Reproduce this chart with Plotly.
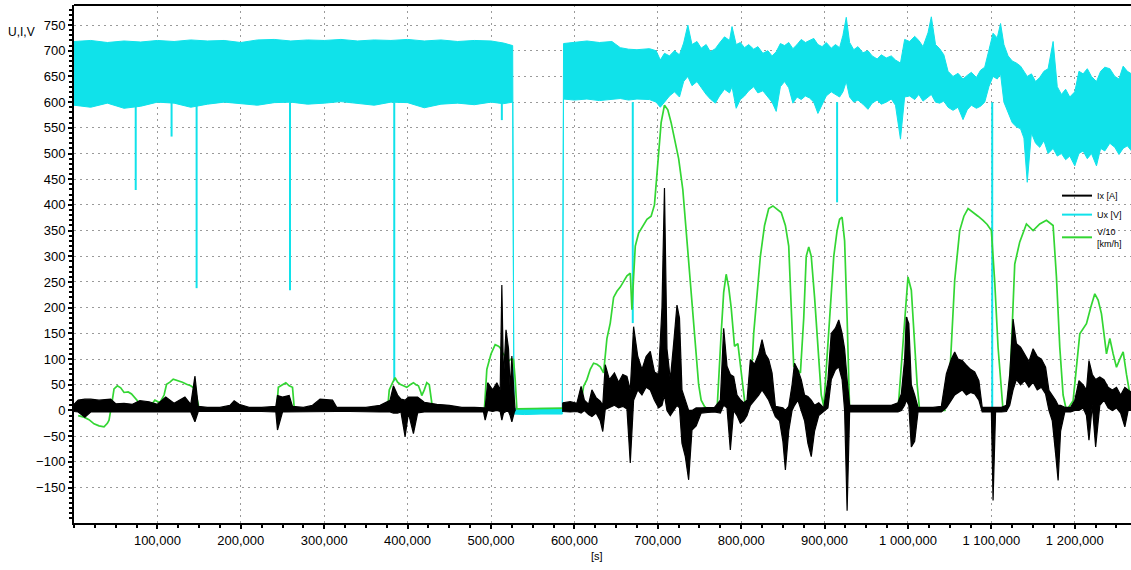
import plotly.graph_objects as go

# ---------------- data (time in thousands of seconds) ----------------
# Ux [V] : envelope of the dense voltage trace (upper / lower edge)
ux_t = [0, 20, 40, 60, 80, 100, 120, 140, 160, 180, 200, 220, 240, 260, 280, 300, 320, 340,
        360, 380, 400, 420, 440, 460, 480, 500, 515, 526,
        527.5, 540, 560, 585.5,
        587, 600, 615, 630, 645, 655, 665, 675, 690, 698, 703, 708, 714, 720, 726, 731, 736,
        741, 747, 752, 758, 763, 769, 774, 780, 786, 789, 794, 799, 804, 809, 815, 820, 826,
        832, 837, 842, 847, 852, 857, 862, 867, 872, 877, 882, 887, 892, 897, 902, 908, 913,
        918, 922, 926, 930, 935, 940, 946, 952, 957, 963, 968, 974, 980, 985, 991, 996, 1002,
        1008, 1013, 1018, 1024, 1028, 1033, 1038, 1043, 1048, 1054, 1060, 1066, 1071, 1076,
        1082, 1087, 1092, 1097, 1102, 1107, 1111, 1115, 1120, 1125, 1130, 1135, 1139, 1143,
        1148, 1153, 1158, 1163, 1168, 1174, 1179, 1184, 1189, 1194, 1200, 1205, 1210, 1215,
        1220, 1226, 1231, 1236, 1242, 1248, 1253, 1258, 1263, 1268]
ux_hi = [718, 720, 716, 719, 717, 720, 718, 721, 719, 720, 716, 721, 722, 719, 721, 720, 722, 719,
         721, 720, 722, 719, 721, 718, 720, 719, 715, 710,
         4, 3, 4, 4,
         714, 717, 719, 716, 718, 706, 703, 702, 704, 700, 682, 695, 690, 700, 692, 715, 750,
         712, 718, 705, 712, 698, 704, 715, 727, 720, 747, 712, 716, 706, 712, 703, 708, 695,
         700, 690, 698, 714, 710, 716, 704, 712, 722, 716, 720, 724, 712, 708, 716, 705, 712,
         706, 730, 765, 716, 702, 708, 696, 700, 690, 684, 692, 686, 690, 682, 676, 722, 718,
         728, 720, 708, 735, 766, 712, 704, 692, 660, 650, 656, 645, 652, 658,
         648, 662, 668, 700, 734, 725, 753, 712, 690, 680, 676, 670, 660, 650,
         655, 640, 648, 660, 665, 718, 630, 615, 625, 610, 620, 660, 655, 665,
         650, 640, 660, 668, 665, 650, 645, 670, 660, 655]
ux_lo = [594, 590, 598, 588, 592, 600, 598, 590, 596, 600, 597, 594, 599, 600, 596, 598, 601, 597,
         594, 600, 599, 589, 596, 598, 595, 600, 597, 600,
         -7, -8, -7, -7,
         606, 604, 606, 603, 605, 607, 604, 606, 605, 600, 590, 600, 612, 620, 610, 640, 650,
         632, 640, 628, 615, 606, 598, 612, 625, 618, 630, 588, 605, 612, 622, 630, 618, 622,
         610, 600, 582, 630, 640, 628, 598, 610, 605, 612, 608, 600, 578, 596, 612, 620, 615,
         610, 620, 640, 610, 600, 604, 596, 586, 598, 604, 596, 600, 606, 594, 528, 610, 612,
         605, 615, 602, 610, 615, 600, 598, 602, 590, 584, 590, 566, 585, 594,
         588, 592, 600, 630, 650, 645, 655, 600, 580, 560, 552, 548, 530, 444,
         540, 520, 512, 525, 500, 510, 495, 500, 488, 495, 476, 500, 505, 490,
         500, 476, 510, 505, 520, 512, 498, 510, 515, 505]
# Ux short drops (time, lowest value)
ux_drop_t = [74, 117, 147, 259, 384, 513, 670, 915, 1101]
ux_drop_v = [429, 533, 238, 234, 57, 565, 170, 405, 0]
ux_drop_from = 600

# Ix [A] : envelope of the current trace, two recorded segments
ix_t1 = [0, 5, 13, 20, 30, 44, 50, 60, 70, 79, 90, 100, 110, 120, 133, 140, 145, 149, 160, 175,
         187, 192, 198, 210, 225, 242, 244, 250, 258, 262, 275, 286, 295, 310, 315, 330, 350,
         367, 379, 383, 388, 392, 397, 401, 407, 412, 420, 435, 450, 465, 480, 491, 493, 496,
         502, 507, 511, 513, 515, 518, 521, 523, 525, 528, 529]
ix_hi1 = [12, 20, 22, 22, 20, 22, 13, 14, 12, 19, 17, 12, 26, 14, 26, 12, 67, 8, 6, 6,
          10, 19, 12, 6, 6, 8, 29, 26, 29, 8, 6, 10, 22, 20, 6, 6, 6,
          10, 20, 48, 30, 22, 20, 26, 26, 26, 16, 12, 10, 6, 6, 6, 5, 54,
          40, 54, 40, 244, 60, 157, 120, 40, 106, 20, 5]
ix_lo1 = [-2, -3, -13, -3, -3, -3, -3, -2, -3, -2, -3, -3, -2, -3, -3, -3, -22, -2, -2, -2,
          -2, -3, -2, -2, -2, -3, -38, -3, -2, -2, -2, -2, -3, -2, -2, -2, -2,
          -3, -3, -5, -5, -3, -51, -5, -45, -5, -3, -3, -2, -3, -3, -3, -19, 0,
          -2, 0, -2, -19, -5, -2, -2, -10, -22, -3, 0]
ix_t2 = [586, 595, 603, 608, 612, 617, 621, 626, 631, 634, 637, 642, 648, 653, 658, 663, 667,
         671, 676, 681, 686, 691, 696, 701, 705, 708, 711, 715, 719, 723, 726, 729, 733, 737,
         741, 746, 752, 760, 768, 775, 779, 783, 787, 791, 795, 799, 803, 807, 811, 816, 821,
         825, 829, 833, 837, 841, 846, 850, 853, 857, 861, 864, 868, 872, 876, 880, 884, 888,
         893, 899, 904, 908, 913, 917, 921, 924, 927, 930, 940, 950, 960, 970, 980, 988, 992,
         996, 998, 1001, 1004, 1008, 1012, 1020, 1030, 1040, 1046, 1052, 1056, 1060, 1065,
         1070, 1075, 1080, 1085, 1089, 1095, 1100, 1102, 1105, 1112, 1118, 1122, 1126, 1130,
         1135, 1140, 1145, 1150, 1155, 1160, 1165, 1169, 1173, 1177, 1180, 1183, 1188, 1195,
         1200, 1205, 1210, 1214, 1217, 1221, 1225, 1230, 1235, 1240, 1245, 1250, 1255, 1260,
         1264, 1268]
ix_hi2 = [15, 17, 14, 47, 20, 12, 40, 25, 18, 10, 89, 60, 73, 55, 70, 66, 40,
          163, 105, 80, 105, 115, 75, 70, 200, 433, 120, 60, 130, 205, 180, 40, 20, 0,
          0, 5, 5, 6, 6, 20, 160, 86, 70, 66, 30, 21, 15, 20, 99, 90, 110,
          138, 110, 99, 73, 8, 6, 5, 0, 8, 50, 92, 79, 60, 30, 27, 20, 10,
          15, 5, 60, 150, 160, 176, 150, 120, 60, 10, 10, 10, 9, 10, 10, 15, 32,
          100, 182, 169, 50, 30, 6, 6, 6, 8, 71, 100, 114, 100, 97,
          88, 80, 75, 58, 6, 6, 6, 6, 6, 6, 10, 71, 178, 130,
          123, 110, 95, 120, 105, 100, 84, 39, 30, 20, 10, 10, 6, 6,
          20, 58, 50, 40, 97, 70, 60, 65, 60, 45, 40, 45, 30, 45,
          40, 35]
ix_lo2 = [-2, -3, -2, -5, 0, -8, -12, -5, -20, -41, 2, 5, 10, 5, 8, 3, -102,
          20, 40, 30, 45, 40, 20, 5, 10, 30, 0, -10, 0, 10, 5, -64, -90, -135,
          -38, -30, -5, -4, -3, -5, 10, 5, -77, 0, -10, -25, -20, -10, 10, 20, 30,
          40, 30, 20, 5, -12, -20, -60, -116, -40, 0, 10, 20, 0, -20, -64, -90, -40,
          -10, -2, 5, 60, 79, 85, 60, 0, -195, -3, -3, -3, -3, -3, -3, -3, 0,
          10, 20, 10, -71, -60, -3, -3, -3, -3, 5, 20, 30, 35, 40,
          30, 35, 32, 20, -3, -3, -3, -175, -3, -3, -2, 10, 40, 60,
          50, 58, 45, 55, 40, 45, 32, 0, -20, -84, -136, -40, -3, -3,
          0, 0, 5, -10, -58, 10, -71, 10, 20, 5, 0, 5, -5, -32,
          0, 0]

# V/10 [km/h]
v_t = [5, 12, 18, 24, 30, 36, 40, 42, 45, 48, 52, 56, 60, 65, 69, 73, 76, 79, 84, 90, 97, 103,
       108, 111, 115, 119, 125, 130, 135, 140, 145, 148, 150, 243, 245, 250, 254, 258, 262,
       264, 266, 376, 378, 382, 385, 388, 391, 395, 399, 403, 407, 410, 413, 416, 417, 420,
       423, 426, 428, 430, 492, 495, 500, 505, 509, 511, 514, 517, 521, 524, 527, 529, 531,
       607, 611, 615, 619, 623, 627, 631, 635, 639, 643, 647, 651, 655, 659, 663, 667, 669,
       671, 673, 677, 682, 687, 692, 696, 700, 704, 708, 712, 716, 720, 725, 730, 735, 740,
       745, 749, 752, 756, 760, 771, 776, 779, 782, 785, 788, 792, 796, 800, 804, 807, 812,
       815, 819, 823, 828, 833, 838, 843, 848, 853, 857, 860, 863, 867, 871, 875, 878, 881,
       884, 888, 892, 896, 899, 903, 907, 911, 915, 918, 921, 924, 927, 930, 988, 992, 996,
       1000, 1004, 1008, 1011, 1014, 1044, 1050, 1056, 1062, 1067, 1072, 1078, 1084, 1090,
       1095, 1100, 1104, 1108, 1114, 1118, 1122, 1128, 1134, 1142, 1150, 1158, 1166, 1174,
       1178, 1182, 1186, 1190, 1198, 1206, 1214, 1219, 1224, 1228, 1232, 1238, 1242, 1246,
       1250, 1254, 1258, 1262, 1266]
v_val = [-10, -13, -18, -26, -30, -32, -25, -19, 10, 42, 48, 44, 35, 36, 32, 25, 19, 6, 0, 5, 20, 15,
         30, 51, 55, 61, 58, 55, 51, 48, 42, 20, 4, 2, 45, 50, 54, 48, 45,
         6, 0, 2, 40, 54, 64, 55, 51, 48, 45, 50, 54, 50, 48, 35, 29, 40,
         54, 50, 25, 3, 0, 80, 110, 128, 125, 122, 112, 106, 96, 100, 99, 60, 3,
         5, 47, 60, 80, 92, 90, 85, 73, 140, 170, 220, 232, 240, 250, 262, 267, 196,
         260, 320, 345, 360, 372, 378, 400, 480, 560, 594, 585, 560, 530, 490, 430, 330, 230,
         130, 50, 20, 8, 2, 0, 150, 230, 265, 240, 200, 125, 130, 80, 20, 2, 60,
         150, 230, 300, 360, 393, 398, 392, 385, 360, 320, 200, 86, 80, 73, 180, 300, 318,
         300, 220, 120, 30, 8, 100, 200, 300, 350, 372, 376, 330, 180, 0, 0, 84, 180,
         260, 234, 130, 50, 0, 0, 65, 253, 350, 378, 393, 386, 378, 370,
         362, 350, 250, 123, 0, 5, 45, 285, 328, 363, 350, 363, 370, 360,
         260, 123, 30, 0, 19, 149, 169, 200, 227, 215, 188, 110, 140, 110,
         84, 100, 114, 70, 32]

x_tick_vals = [100000, 200000, 300000, 400000, 500000, 600000, 700000, 800000, 900000,
               1000000, 1100000, 1200000]
x_tick_text = ["100,000", "200,000", "300,000", "400,000", "500,000", "600,000", "700,000",
               "800,000", "900,000", "1 000,000", "1 100,000", "1 200,000"]
y_tick_vals = [-150, -100, -50, 0, 50, 100, 150, 200, 250, 300, 350, 400, 450, 500, 550,
               600, 650, 700, 750]

# ---------------- styling ----------------
CYAN = "#10e2ea"
GREEN = "#33d633"
BLACK = "#000000"
FONT = "Liberation Sans, Arial, sans-serif"


def sec(ts):
    return [t * 1000 for t in ts]


def band(ts, hi, lo):
    xs = sec(ts)
    return xs + xs[::-1] + [xs[0]], hi + lo[::-1] + [hi[0]]


fig = go.Figure()

# Ux band
bx, by = band(ux_t, ux_hi, ux_lo)
fig.add_trace(go.Scatter(x=bx, y=by, mode="lines", fill="toself", fillcolor=CYAN,
                         line=dict(color=CYAN, width=1), showlegend=False, hoverinfo="skip"))
# Ux drops
dx, dy = [], []
for t, v in zip(ux_drop_t, ux_drop_v):
    dx += [t * 1000, t * 1000, None]
    dy += [ux_drop_from, v, None]
fig.add_trace(go.Scatter(x=dx, y=dy, mode="lines", line=dict(color=CYAN, width=2),
                         showlegend=False, hoverinfo="skip"))

# V/10
fig.add_trace(go.Scatter(x=sec(v_t), y=v_val, mode="lines", line=dict(color=GREEN, width=1.7),
                         showlegend=False))

# Ix band (two segments)
ax1, ay1 = band(ix_t1, ix_hi1, ix_lo1)
ax2, ay2 = band(ix_t2, ix_hi2, ix_lo2)
fig.add_trace(go.Scatter(x=ax1 + [None] + ax2, y=ay1 + [None] + ay2, mode="lines",
                         fill="toself", fillcolor=BLACK, line=dict(color=BLACK, width=1.2),
                         showlegend=False, hoverinfo="skip"))

# legend entries
for name, col in [("Ix [A]", BLACK), ("Ux [V]", CYAN), ("V/10<br>[km/h]", GREEN)]:
    fig.add_trace(go.Scatter(x=[None], y=[None], mode="lines", name=name,
                             line=dict(color=col, width=2)))

grid = dict(showgrid=True, gridcolor="#9a9a9a", gridwidth=1.4, griddash="2px,4px")
TICKFONT = dict(size=13, family=FONT, color="#000000")

fig.update_layout(
    width=1131, height=570,
    margin=dict(l=74, r=0, t=5, b=47),
    paper_bgcolor="white", plot_bgcolor="white",
    font=dict(family=FONT, color="#000000", size=12),
    showlegend=True,
    legend=dict(x=0.93, y=0.66, xanchor="left", yanchor="top",
                bgcolor="rgba(255,255,255,0)", font=dict(size=9, family=FONT, color="#000000"),
                tracegroupgap=0, itemwidth=30),
    xaxis=dict(range=[0, 1267400], tickmode="array", tickvals=x_tick_vals, ticktext=x_tick_text,
               ticks="outside", ticklen=4, tickwidth=1.5, tickcolor="black",
               showline=True, linecolor="black", linewidth=2, zeroline=False,
               tickfont=TICKFONT, automargin=False,
               minor=dict(tickmode="linear", tick0=0, dtick=25000, ticks="outside",
                          ticklen=3, tickcolor="black", showgrid=False),
               **grid),
    yaxis=dict(range=[-219, 789], tickmode="array", tickvals=y_tick_vals,
               ticks="outside", ticklen=4, tickwidth=1.5, tickcolor="black",
               showline=True, linecolor="black", linewidth=2, zeroline=False,
               tickfont=TICKFONT, automargin=False,
               minor=dict(tickmode="linear", tick0=0, dtick=10, ticks="outside",
                          ticklen=3, tickcolor="black", showgrid=False),
               **grid),
    shapes=[dict(type="line", xref="paper", yref="paper", x0=0, x1=1, y0=1, y1=1,
                 line=dict(color="black", width=2))],
    annotations=[
        dict(text="U,I,V", xref="paper", yref="paper", x=-0.064, y=0.948, xanchor="left",
             yanchor="middle", showarrow=False, font=dict(size=12, family=FONT, color="#000000")),
        dict(text="[s]", xref="paper", yref="paper", x=0.495, y=-0.064, xanchor="center",
             yanchor="middle", showarrow=False, font=dict(size=11, family=FONT, color="#000000")),
    ],
)

fig.write_html("out.html", config={"displayModeBar": False},
               post_script="document.body.style.margin='0px';")
